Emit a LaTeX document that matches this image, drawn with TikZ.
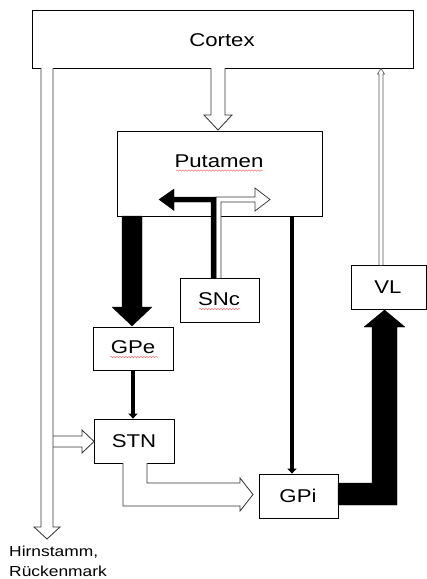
\documentclass[tikz,border=0pt]{standalone}
\usepackage{fontspec}
\usepackage{graphicx}
\setmainfont{Liberation Sans}
\usetikzlibrary{arrows.meta,decorations.pathmorphing,calc}
\newcommand\sxx[1]{\scalebox{1.2}[1]{#1}}
\begin{document}
\begin{tikzpicture}[x=1pt,y=-1pt,
 box/.style={draw=black,line width=0.8pt,fill=white,inner sep=0pt},
 lbl/.style={inner sep=0pt,font=\fontsize{18.5}{22}\selectfont},
 hollow/.style={draw=black!78,line width=0.85pt,fill=white,line join=miter},
 solidarr/.style={fill=black,draw=black,line width=0.3pt,line join=miter},
 thinarr/.style={line width=3.5pt,-{Triangle[width=9pt,length=5pt]}},
 wavy/.style={draw=red!55!white,line width=0.5pt,decorate,decoration={snake,amplitude=0.7pt,segment length=3pt}}]
\useasboundingbox (0,0) rectangle (427,579);
\fill[white] (0,0) rectangle (427,579);

% boxes
\node[box,minimum width=381pt,minimum height=58pt] (cortex) at (222.5,39) {};
\node[box,minimum width=205pt,minimum height=85pt] (put) at (219.5,173.5) {};
\node[box,minimum width=79pt,minimum height=44pt] (snc) at (219.5,300) {};
\node[box,minimum width=80pt,minimum height=43pt] (gpe) at (133,348.5) {};
\node[box,minimum width=80pt,minimum height=44pt] (stn) at (134,441) {};
\node[box,minimum width=79pt,minimum height=44pt] (gpi) at (298.5,496) {};
\node[box,minimum width=75pt,minimum height=44pt] (vl) at (388.5,287) {};

% labels
\node[lbl] (cortexT) at (222,40) {\sxx{Cortex}};
\node[lbl] (putT) at (219,161) {\sxx{Putamen}};
\node[lbl] (sncT) at (219,299) {\sxx{SNc}};
\node[lbl] (gpeT) at (133,347) {\sxx{GPe}};
\node[lbl] (stnT) at (134,441) {\sxx{STN}};
\node[lbl] (gpiT) at (298,496) {\sxx{GPi}};
\node[lbl] (vlT) at (388,287) {\sxx{VL}};
\node[anchor=north west,align=left,inner sep=0pt,font=\fontsize{14.5}{20}\selectfont] (hirn) at (9,545.5) {\sxx{Hirnstamm,}\\\sxx{Rückenmark}};

% spell-check underlines
\draw[wavy] (176,170.5) -- (263,170.5);
\draw[wavy] (199,309) -- (240,309);
\draw[wavy] (110,357) -- (158,357);

% STN input from the descending pathway
\draw[hollow] (53,436) -- (82,436) -- (82,430) -- (94,441.5) -- (82,453) -- (82,447) -- (53,447);
% Cortex -> Hirnstamm
\draw[hollow] (41,68) -- (41,527) -- (34,527) -- (47,539) -- (60,527) -- (53,527) -- (53,68);
% Cortex -> Putamen
\draw[hollow] (211,68) -- (211,115) -- (204,115) -- (218,130) -- (232,115) -- (225,115) -- (225,68);
% Putamen -> GPe
\fill[solidarr] (122,216) -- (122,307) -- (112,307) -- (132,326) -- (152,307) -- (142,307) -- (142,216) -- cycle;
% SNc -> Putamen (hollow, to the right)
\draw[hollow,line width=0.75pt] (216,278) -- (216,197) -- (255,197) -- (255,188) -- (270,199.5) -- (255,211) -- (255,202) -- (221,202) -- (221,278);
% SNc -> Putamen (black, to the left)
\fill[solidarr] (211,278) -- (211,202) -- (174,202) -- (174,210.5) -- (159,199.5) -- (174,189) -- (174,197) -- (216,197) -- (216,278) -- cycle;
% GPe -> STN
\draw[thinarr] (gpe.south) -- (gpe.south |- stn.north);
% Putamen -> GPi
\coordinate (pgx) at (292,0);
\draw[thinarr] (put.south -| pgx) -- (gpi.north -| pgx);
% STN -> GPi
\draw[hollow] (123,463) -- (123,506) -- (240,506) -- (240,511) -- (253,494.5) -- (240,478) -- (240,483) -- (147,483) -- (147,463);
% GPi -> VL
\fill[solidarr] (338,483) -- (372,483) -- (372,327) -- (364,327) -- (384.5,310) -- (405,327) -- (397,327) -- (397,505) -- (338,505) -- cycle;
% VL -> Cortex
\draw[draw=black!65,line width=0.65pt,fill=white] (379,265) -- (379,74) -- (377.5,74) -- (381,68.5) -- (384.5,74) -- (383,74) -- (383,265);
\end{tikzpicture}
\end{document}
